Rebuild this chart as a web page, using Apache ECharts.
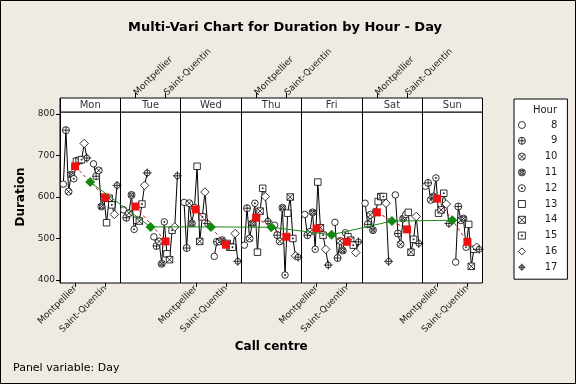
<!DOCTYPE html>
<html><head><meta charset="utf-8">
<script src="https://cdn.jsdelivr.net/npm/echarts@6/dist/echarts.min.js"></script>
<style>html,body{margin:0;padding:0;background:#efebe2}</style>
</head><body><div id="c" style="width:576px;height:384px"></div>
<script>
// ---- data ----
const DAYS = ['Mon', 'Tue', 'Wed', 'Thu', 'Fri', 'Sat', 'Sun'];
const CENTRES = ['Montpellier', 'Saint-Quentin'];
const HOURS = ['8', '9', '10', '11', '12', '13', '14', '15', '16', '17'];
const Y_TICKS = [400, 500, 600, 700, 800];

// Duration for hours 8..17, per day and call centre
const MON_MTP = [631, 761, 613, 654, 644, 686, 688, 690, 729, 694];
const MON_SQ  = [680, 650, 664, 577, 597, 538, 597, 581, 558, 628];
const TUE_MTP = [569, 550, 561, 605, 522, 544, 542, 583, 628, 658];
const TUE_SQ  = [504, 482, 493, 439, 540, 463, 449, 520, 528, 651];
const WED_MTP = [587, 477, 585, 536, 575, 674, 493, 552, 612, 536];
const WED_SQ  = [457, 492, 493, 496, 488, 488, 479, 479, 512, 445];
const THU_MTP = [484, 573, 500, 536, 585, 467, 566, 621, 601, 542];
const THU_SQ  = [532, 508, 493, 574, 412, 561, 600, 500, 458, 455];
const FRI_MTP = [558, 508, 516, 563, 474, 636, 526, 508, 474, 436];
const FRI_SQ  = [539, 453, 494, 471, 514, 504, 496, 484, 466, 492];
const SAT_MTP = [585, 534, 557, 520, 565, 589, 601, 601, 585, 445];
const SAT_SQ  = [605, 512, 486, 548, 558, 563, 467, 498, 553, 488];
const SUN_MTP = [626, 634, 593, 601, 646, 561, 569, 609, 583, 536];
const SUN_SQ  = [443, 577, 544, 548, 479, 534, 433, 474, 479, 474];

// call-centre means (red squares) and day means (green diamonds)
const MEAN_MTP = [674, 577, 570, 550, 524, 563, 596];
const MEAN_SQ  = [599, 493, 485, 504, 492, 522, 492];
const MEAN_DAY = [636, 528, 528, 527, 509, 542, 544];

const GROUPS = [
  [MON_MTP, MON_SQ], [TUE_MTP, TUE_SQ], [WED_MTP, WED_SQ], [THU_MTP, THU_SQ],
  [FRI_MTP, FRI_SQ], [SAT_MTP, SAT_SQ], [SUN_MTP, SUN_SQ]
];
const CENTRE_MEANS = [MEAN_MTP, MEAN_SQ];

// ---- layout ----
const L = 60, W = 422.5;
const HOUR_STEP = 0.0865; // offset of consecutive hours inside a centre group (axis units)
const FONT = 'DejaVu Sans';

const C = 'M10 0A10 10 0 1 1 10 20A10 10 0 1 1 10 0Z';
const SYMBOLS = [
  'path://' + C,
  'path://' + C + 'M10 0L10 20M0 10L20 10',
  'path://' + C + 'M2.93 2.93L17.07 17.07M17.07 2.93L2.93 17.07',
  'path://' + C + 'M2.93 2.93L17.07 17.07M17.07 2.93L2.93 17.07M10 4A6 6 0 1 1 10 16A6 6 0 1 1 10 4Z',
  'path://' + C + 'M8.5 8.5H11.5V11.5H8.5Z',
  'path://M0 0H20V20H0Z',
  'path://M0 0H20V20H0ZM0 0L20 20M20 0L0 20',
  'path://M0 0H20V20H0ZM8.5 8.5H11.5V11.5H8.5Z',
  'path://M10 0L20 10L10 20L0 10Z',
  'path://M10 3.5A6.5 6.5 0 1 1 10 16.5A6.5 6.5 0 1 1 10 3.5ZM10 0L10 20M0 10L20 10'
];
const SIZES = [6.5, 7, 7, 7, 6.5, 6.5, 6.5, 6.5, 8.5, 9];
const ITEM = { color: '#fff', borderColor: '#000', borderWidth: 0.8, opacity: 1 };

function xPos(d, c, i) { return 2 * d + c + 0.5 + (i - (HOURS.length - 1) / 2) * HOUR_STEP; }

const series = [];
// connecting lines within each centre group
GROUPS.forEach((pair, d) => pair.forEach((vals, c) => {
  series.push({
    type: 'line', xAxisIndex: 4, yAxisIndex: 2, symbol: 'none', silent: true, z: 2,
    lineStyle: { color: '#000', width: 1 },
    data: vals.map((v, i) => [xPos(d, c, i), v])
  });
}));
// hour symbols
HOURS.forEach((h, i) => {
  const data = [];
  GROUPS.forEach((pair, d) => pair.forEach((vals, c) => data.push([xPos(d, c, i), vals[i]])));
  series.push({
    type: 'scatter', name: h, xAxisIndex: 4, yAxisIndex: 2, z: 3,
    symbol: SYMBOLS[i], symbolSize: SIZES[i], symbolKeepAspect: true,
    itemStyle: ITEM,
    data
  });
});
// centre means (red)
DAYS.forEach((day, d) => {
  series.push({
    type: 'line', xAxisIndex: 4, yAxisIndex: 2, z: 4, symbol: 'rect', symbolSize: 8,
    itemStyle: { color: '#ee1111' },
    lineStyle: { color: '#d01010', width: 1, type: [3, 3] },
    data: CENTRE_MEANS.map((m, c) => [2 * d + c + 0.5, m[d]])
  });
});
// day means (green)
series.push({
  type: 'line', xAxisIndex: 4, yAxisIndex: 2, z: 5, symbol: 'diamond', symbolSize: 10,
  itemStyle: { color: '#128a12' },
  lineStyle: { color: '#1a8a1a', width: 1 },
  data: MEAN_DAY.map((v, d) => [2 * d + 1, v])
});

const labelDays = (top) => (idx) => {
  const d = Math.floor(idx / 2);
  return top ? (d % 2 === 1) : (d % 2 === 0);
};
const CENTRE_CATS = [];
DAYS.forEach(() => CENTRES.forEach(c => CENTRE_CATS.push(c)));

const chart = echarts.init(document.getElementById('c'), null, { renderer: 'canvas' });
chart.setOption({
  animation: false,
  backgroundColor: '#efebe2',
  textStyle: { fontFamily: FONT },
  grid: [
    { left: L, width: W, top: 112, height: 171, show: true, backgroundColor: '#fff', borderColor: '#000', borderWidth: 1 }, // frame
    { left: L, width: W, top: 98, height: 14, show: true, backgroundColor: '#fff', borderColor: '#000', borderWidth: 1 },  // strip
    { left: L, width: W, top: 114, height: 166 } // data
  ],
  xAxis: [
    { gridIndex: 0, type: 'value', min: 0, max: 7, interval: 1, axisLine: { show: false }, axisTick: { show: false }, axisLabel: { show: false },
      splitLine: { show: true, lineStyle: { color: '#000', width: 1 } } },
    { gridIndex: 0, type: 'category', position: 'bottom', data: CENTRE_CATS, axisLine: { show: false },
      axisTick: { show: true, alignWithLabel: true, length: 4, interval: labelDays(false), lineStyle: { color: '#000' } },
      axisLabel: { interval: labelDays(false), rotate: 45, fontSize: 9, color: '#222', margin: 4, fontFamily: FONT },
      name: 'Call centre', nameLocation: 'middle', nameGap: 58,
      nameTextStyle: { fontSize: 12, fontWeight: 'bold', color: '#000', fontFamily: FONT } },
    { gridIndex: 1, type: 'category', position: 'bottom', data: DAYS, axisLine: { show: false }, axisTick: { show: false },
      axisLabel: { inside: true, margin: 2, fontSize: 10, color: '#333', fontFamily: FONT },
      splitLine: { show: true, lineStyle: { color: '#000', width: 1 } } },
    { gridIndex: 1, type: 'category', position: 'top', data: CENTRE_CATS, axisLine: { show: false },
      axisTick: { show: true, alignWithLabel: true, length: 5, interval: labelDays(true), lineStyle: { color: '#000' } },
      axisLabel: { interval: labelDays(true), rotate: -45, fontSize: 9, color: '#222', margin: 4, fontFamily: FONT } },
    { gridIndex: 2, type: 'value', min: 0, max: 14, show: false }
  ],
  yAxis: [
    { gridIndex: 0, type: 'value', min: 0, max: 1, show: false },
    { gridIndex: 1, type: 'value', min: 0, max: 1, show: false },
    { gridIndex: 2, type: 'value', min: Y_TICKS[0], max: Y_TICKS[Y_TICKS.length - 1], interval: 100,
      axisLine: { show: true, lineStyle: { color: '#000' } },
      axisTick: { show: true, length: 4, lineStyle: { color: '#000' } },
      axisLabel: { fontSize: 9, color: '#222', margin: 5, fontFamily: FONT },
      splitLine: { show: false },
      name: 'Duration', nameLocation: 'middle', nameGap: 29, nameRotate: 90,
      nameTextStyle: { fontSize: 12, fontWeight: 'bold', color: '#000', fontFamily: FONT } }
  ],
  legend: {
    data: HOURS, orient: 'vertical', left: 514, top: 99,
    padding: [21, 10, 7, 4], itemGap: 5.8, itemWidth: 7, itemHeight: 8,
    backgroundColor: '#fff', borderColor: '#000', borderWidth: 1, borderRadius: 0,
    selectedMode: false,
    itemStyle: { color: '#fff', borderColor: '#000', borderWidth: 0.8 },
    formatter: '{a|{name}}',
    textStyle: { fontFamily: FONT, fontSize: 10, color: '#222', rich: { a: { width: 27, align: 'right', fontSize: 10, fontFamily: FONT, color: '#222' } } }
  },
  graphic: [
    { type: 'rect', silent: true, z: 100, shape: { x: 0.5, y: 0.5, width: 575, height: 383 }, style: { fill: null, stroke: '#000', lineWidth: 1 } },
    { type: 'text', z: 100, x: 285, y: 28, style: { text: 'Multi-Vari Chart for Duration by Hour - Day', font: 'bold 13px "DejaVu Sans"', fill: '#000', align: 'center', verticalAlign: 'middle' } },
    { type: 'text', z: 100, x: 557, y: 110, style: { text: 'Hour', font: '10px "DejaVu Sans"', fill: '#222', align: 'right', verticalAlign: 'middle' } },
    { type: 'text', z: 100, x: 13, y: 368, style: { text: 'Panel variable: Day', font: '11px "DejaVu Sans"', fill: '#000', align: 'left', verticalAlign: 'middle' } }
  ],
  series
});
</script></body></html>
